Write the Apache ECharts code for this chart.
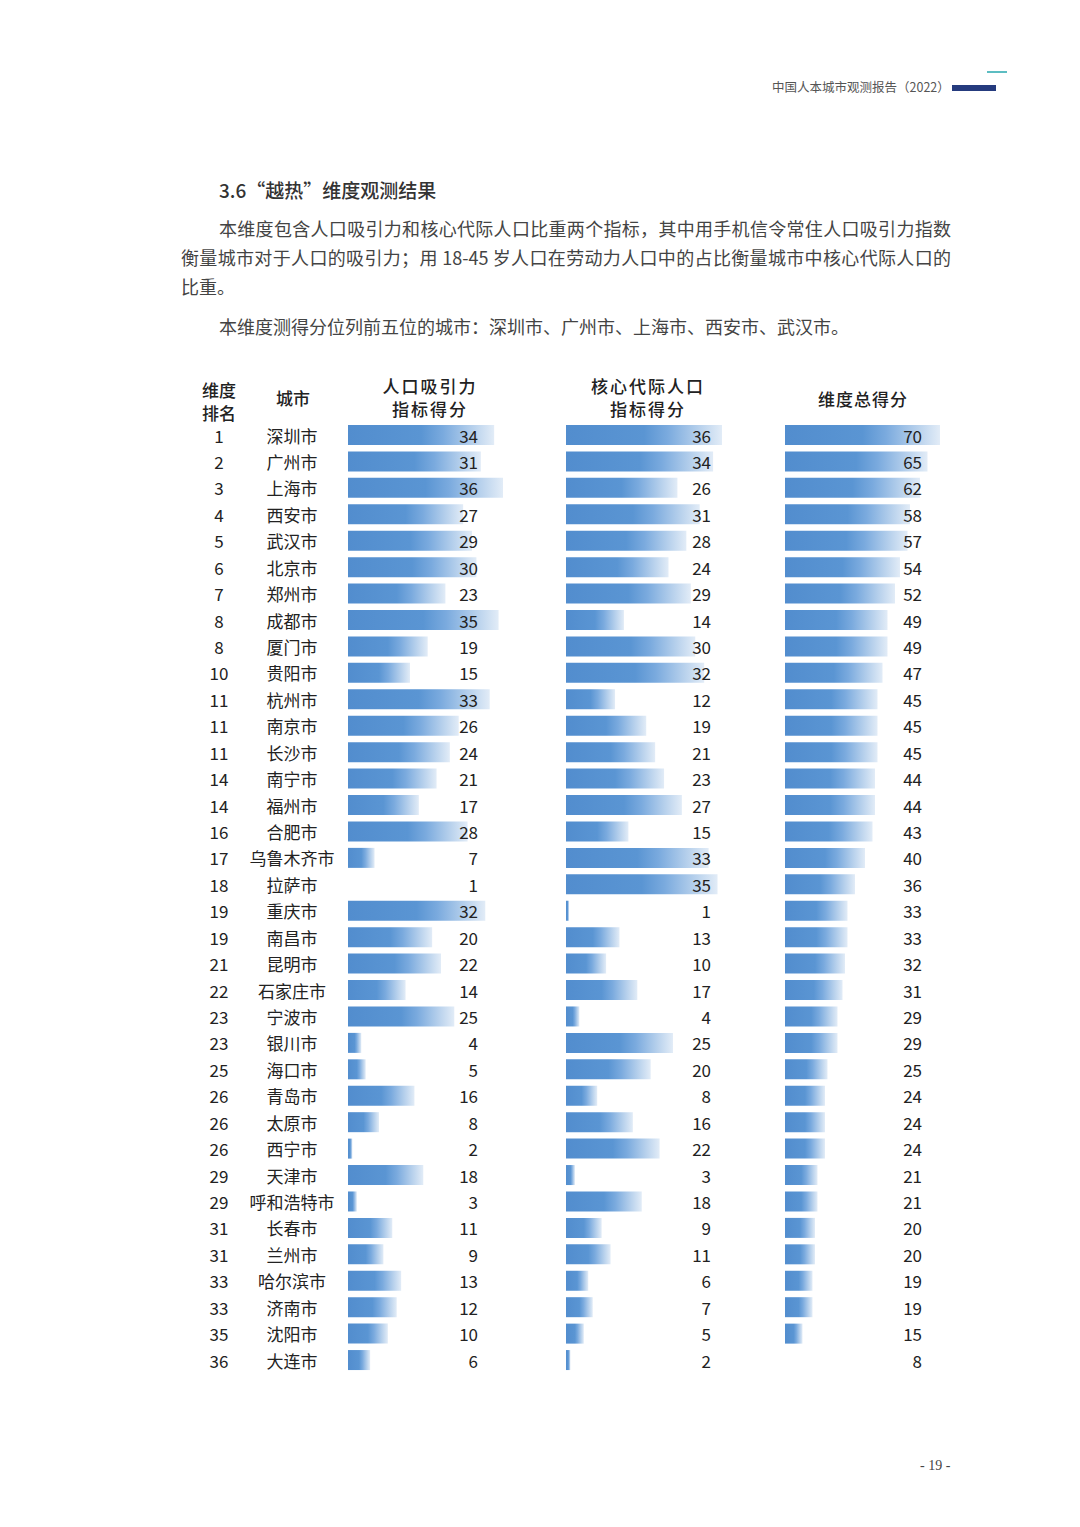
<!DOCTYPE html>
<html><head><meta charset="utf-8">
<script src="https://cdn.jsdelivr.net/npm/echarts@6/dist/echarts.min.js"></script>
<style>
html,body{margin:0;padding:0;background:#fff;}
#page{position:relative;width:1080px;height:1527px;overflow:hidden;font-family:"Noto Sans CJK SC","Noto Sans",sans-serif;}
#chart{position:absolute;left:0;top:0;width:1080px;height:1527px;}
.t{position:absolute;white-space:nowrap;}
.p{font-size:18px;color:#444;line-height:24px;height:24px;}
.j{text-align:justify;text-align-last:justify;}
.h{font-size:17px;color:#222;font-weight:500;line-height:24px;text-align:center;letter-spacing:2px;}
</style></head>
<body><div id="page">
<div id="chart"></div>
<div class="t" style="left:772px;top:79px;font-size:12.5px;color:#555;line-height:16px;">中国人本城市观测报告（2022）</div>
<div class="t" style="left:952px;top:85px;width:44px;height:6px;background:#253b7e;"></div>
<div class="t" style="left:987px;top:71px;width:20px;height:2px;background:#5cbdc2;"></div>
<div class="t" style="left:219px;top:177px;font-size:19px;color:#333;font-weight:500;line-height:26px;">3.6“越热”维度观测结果</div>
<div class="t p j" style="left:219px;top:216px;width:732px;">本维度包含人口吸引力和核心代际人口比重两个指标，其中用手机信令常住人口吸引力指数</div>
<div class="t p j" style="left:181px;top:245px;width:770px;">衡量城市对于人口的吸引力；用 18-45 岁人口在劳动力人口中的占比衡量城市中核心代际人口的</div>
<div class="t p" style="left:181px;top:274px;">比重。</div>
<div class="t p" style="left:219px;top:314px;">本维度测得分位列前五位的城市：深圳市、广州市、上海市、西安市、武汉市。</div>
<div class="t h" style="left:179px;top:378px;width:80px;letter-spacing:0;line-height:23px;">维度<br>排名</div>
<div class="t h" style="left:253px;top:387px;width:80px;letter-spacing:0;line-height:22px;">城市</div>
<div class="t h" style="left:350px;top:374px;width:160px;line-height:23px;">人口吸引力<br>指标得分</div>
<div class="t h" style="left:568px;top:374px;width:160px;line-height:23px;">核心代际人口<br>指标得分</div>
<div class="t h" style="left:783px;top:388px;width:160px;letter-spacing:1px;line-height:22px;">维度总得分</div>
<div class="t" style="left:920px;top:1456px;font-size:14px;color:#444;font-family:'Liberation Serif',serif;line-height:20px;">- 19 -</div>
</div>
<script>
const ranks = [1,2,3,4,5,6,7,8,8,10,11,11,11,14,14,16,17,18,19,19,21,22,23,23,25,26,26,26,29,29,31,31,33,33,35,36];
const cities = ['深圳市','广州市','上海市','西安市','武汉市','北京市','郑州市','成都市','厦门市','贵阳市','杭州市','南京市','长沙市','南宁市','福州市','合肥市','乌鲁木齐市','拉萨市','重庆市','南昌市','昆明市','石家庄市','宁波市','银川市','海口市','青岛市','太原市','西宁市','天津市','呼和浩特市','长春市','兰州市','哈尔滨市','济南市','沈阳市','大连市'];
const popScore = [34,31,36,27,29,30,23,35,19,15,33,26,24,21,17,28,7,1,32,20,22,14,25,4,5,16,8,2,18,3,11,9,13,12,10,6];
const coreScore = [36,34,26,31,28,24,29,14,30,32,12,19,21,23,27,15,33,35,1,13,10,17,4,25,20,8,16,22,3,18,9,11,6,7,5,2];
const totalScore = [70,65,62,58,57,54,52,49,49,47,45,45,45,44,44,43,40,36,33,33,32,31,29,29,25,24,24,24,21,21,20,20,19,19,15,8];

const chart = echarts.init(document.getElementById('chart'), null, {renderer:'svg', width:1080, height:1527});
const rowH = 26.43;
const top0 = 435 - rowH/2;
const gh = rowH * cities.length;
const font = '"Noto Sans CJK SC","Noto Sans",sans-serif';
const grad = new echarts.graphic.LinearGradient(0,0,1,0,[
  {offset:0,color:'#528dce'},{offset:0.5,color:'#5a95d3'},{offset:0.65,color:'#7aaade'},
  {offset:0.85,color:'#b6d0ec'},{offset:1,color:'#e2ecf7'}]);
const cols = [
  {left:348,width:155,min:1,max:36,data:popScore,margin:25,minLen:0},
  {left:566,width:156,min:1,max:36,data:coreScore,margin:11,minLen:7.5},
  {left:785,width:155,min:8,max:70,data:totalScore,margin:18,minLen:0}
];
const grids=[],xAxes=[],yAxes=[],series=[];
cols.forEach((c,i)=>{
  grids.push({left:c.left,width:c.width,top:top0,height:gh});
  xAxes.push({type:'value',gridIndex:i,min:c.min,max:c.max,show:false});
  yAxes.push({type:'category',gridIndex:i,data:cities,inverse:true,
    axisLine:{show:false},axisTick:{show:false},splitLine:{show:false},
    axisLabel:i===0?{show:true,interval:0,margin:6,fontFamily:font,fontSize:17,color:'#222',
      formatter:(v,idx)=>'{r|'+ranks[idx]+'}{c|'+v+'}',
      rich:{r:{width:46,align:'center',fontSize:17,color:'#222',fontFamily:font},
            c:{width:100,align:'center',fontSize:17,color:'#222',fontFamily:font}}}:{show:false}});
  yAxes.push({type:'category',gridIndex:i,data:cities,inverse:true,position:'right',z:10,
    axisLine:{show:false},axisTick:{show:false},splitLine:{show:false},
    axisLabel:{show:true,inside:true,interval:0,margin:c.margin,fontFamily:font,fontSize:17,color:'#222',
      formatter:(v,idx)=>String(c.data[idx])}});
  series.push({type:'bar',xAxisIndex:i,yAxisIndex:i*2,data:c.data,barWidth:20,barMinHeight:c.minLen,
    itemStyle:{color:grad},silent:true,animation:false,clip:true});
});
chart.setOption({animation:false,grid:grids,xAxis:xAxes,yAxis:yAxes,series:series});
</script>
</body></html>
